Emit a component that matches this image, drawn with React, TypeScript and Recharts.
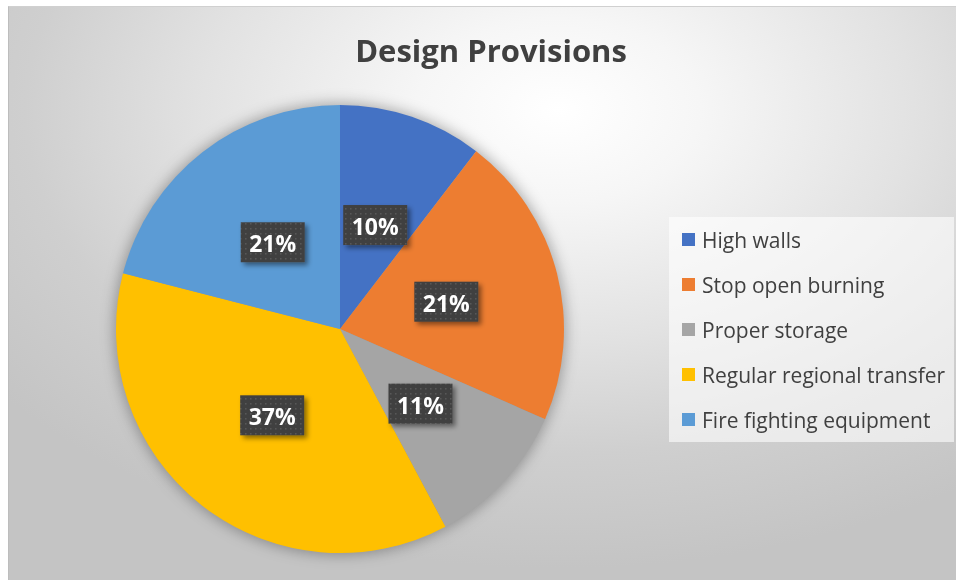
import React from 'react';
import { PieChart, Pie, Cell, Legend } from 'recharts';

const categories = ['High walls', 'Stop open burning', 'Proper storage', 'Regular regional transfer', 'Fire fighting equipment'];
const shares = [10.4, 21.2, 10.6, 36.8, 21.0];
const colors = ['#4472C4', '#ED7D31', '#A5A5A5', '#FFC000', '#5B9BD5'];
const title = 'Design Provisions';

const data = categories.map((name, i) => ({ name, value: shares[i] }));
const shadowData = [{ name: 'all', value: 1 }];

const FONT = '"Open Sans", "Noto Sans", sans-serif';
const RAD = Math.PI / 180;

const renderLabel = (props: any) => {
  const { cx, cy, midAngle, outerRadius, percent } = props;
  const r = outerRadius * 0.49;
  const x = cx + r * Math.cos(-midAngle * RAD);
  const y = cy + r * Math.sin(-midAngle * RAD);
  const w = 64;
  const h = 40;
  return (
    <g>
      <rect x={x - w / 2} y={y - h / 2} width={w} height={h} fill="url(#lblDots)" filter="url(#lblShadow)" />
      <text
        x={x}
        y={y + 1}
        fill="#ffffff"
        textAnchor="middle"
        dominantBaseline="central"
        fontSize={23}
        fontWeight={700}
        fontFamily={FONT}
      >
        {Math.round(percent * 100)}%
      </text>
    </g>
  );
};

const renderLegend = () => (
  <div
    style={{
      width: 285,
      height: 225,
      background: 'rgba(255,255,255,0.6)',
      boxSizing: 'border-box',
      fontFamily: FONT,
    }}
  >
    {categories.map((c, i) => (
      <div key={c} style={{ height: 45, display: 'flex', alignItems: 'center' }}>
        <div style={{ width: 13, height: 13, background: colors[i], marginLeft: 13, marginRight: 7 }} />
        <span style={{ fontSize: 21, color: '#404040', whiteSpace: 'nowrap' }}>{c}</span>
      </div>
    ))}
  </div>
);

export default function App() {
  return (
    <div
      style={{
        position: 'fixed',
        left: 8,
        top: 6,
        width: 948,
        height: 574,
        background:
          'radial-gradient(ellipse 75% 80% at 58% 18%, #ffffff 0%, #f6f6f6 20%, #e2e2e2 50%, #cfcfcf 75%, #c4c4c4 100%)',
        borderTop: '1px solid #d0d0d0',
        borderLeft: '1px solid #bdbdbd',
        boxSizing: 'border-box',
        overflow: 'hidden',
      }}
    >
      <svg width={0} height={0} style={{ position: 'absolute' }}>
        <defs>
          <pattern id="lblDots" width={5} height={5} patternUnits="userSpaceOnUse">
            <rect width={5} height={5} fill="#404040" />
            <rect x={1} y={1} width={1.5} height={1.5} fill="#595959" />
          </pattern>
          <filter id="lblShadow" x="-30%" y="-30%" width="160%" height="160%">
            <feDropShadow dx={3} dy={3} stdDeviation={2.5} floodColor="#000" floodOpacity={0.45} />
          </filter>
          <filter id="pieShadow" x="-20%" y="-20%" width="140%" height="140%">
            <feGaussianBlur stdDeviation={7} />
          </filter>
        </defs>
      </svg>
      <div
        style={{
          position: 'absolute',
          left: 0,
          top: 21,
          width: 948,
          paddingLeft: 16,
          boxSizing: 'border-box',
          textAlign: 'center',
          fontFamily: FONT,
          fontWeight: 700,
          fontSize: 31,
          lineHeight: '44px',
          color: '#404040',
          zIndex: 2,
        }}
      >
        {title}
      </div>
      <PieChart width={948} height={574} margin={{ top: 0, right: 0, bottom: 0, left: 0 }}>
        <Pie
          data={shadowData}
          dataKey="value"
          cx={331}
          cy={322}
          outerRadius={226}
          startAngle={90}
          endAngle={-270}
          fill="#000"
          fillOpacity={0.3}
          stroke="none"
          filter="url(#pieShadow)"
          isAnimationActive={false}
          legendType="none"
          label={false}
          labelLine={false}
        />
        <Pie
          data={data}
          dataKey="value"
          nameKey="name"
          cx={331}
          cy={322}
          outerRadius={224}
          startAngle={90}
          endAngle={-270}
          stroke="none"
          isAnimationActive={false}
          labelLine={false}
          label={renderLabel}
        >
          {data.map((d, i) => (
            <Cell key={d.name} fill={colors[i]} />
          ))}
        </Pie>
        <Legend
          content={renderLegend}
          wrapperStyle={{ position: 'absolute', left: 660, top: 210, width: 285, height: 225 }}
        />
      </PieChart>
    </div>
  );
}
